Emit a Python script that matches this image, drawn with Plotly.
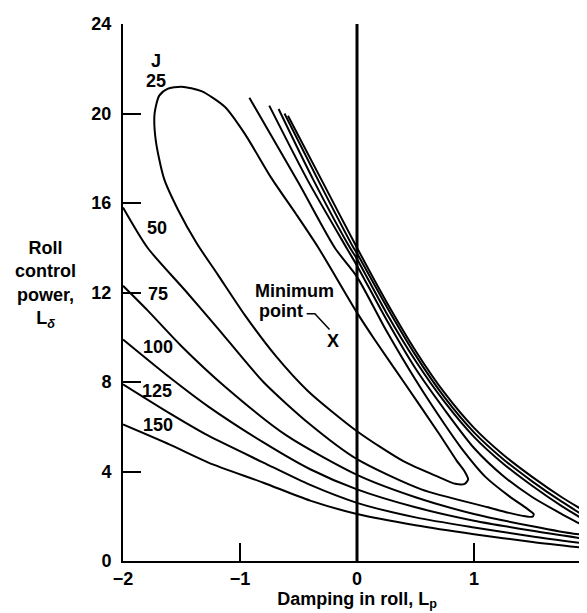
import plotly.graph_objects as go

# ---- data (x = damping in roll L_p, y = roll control power L_delta)
J25_x = [-1.50, -1.62, -1.69, -1.73, -1.72, -1.65, -1.53, -1.37, -1.19, -0.96, -0.70, -0.42, 0.00, 0.40, 0.70, 0.84, 0.92, 0.95, 0.92, 0.85, 0.70, 0.40, 0.15, 0.00, -0.33, -0.52, -0.73, -0.96, -1.13, -1.33, -1.50]
J25_y = [21.2, 21.1, 20.8, 20.0, 18.8, 17.1, 15.7, 14.2, 12.8, 11.0, 9.2, 7.6, 5.8, 4.45, 3.75, 3.45, 3.45, 3.65, 4.0, 4.5, 5.7, 8.0, 9.9, 11.1, 14.0, 15.5, 17.1, 19.1, 20.3, 21.0, 21.2]

J50_x = [-2.00, -1.79, -1.47, -1.19, -0.80, -0.40, 0.00, 0.55, 1.12, 1.30, 1.44, 1.50, 1.51, 1.45, 1.30, 1.10, 0.89, 0.75, 0.50, 0.25, 0.00, -0.19, -0.50, -0.92]
J50_y = [15.8, 14.0, 12.1, 10.4, 8.0, 6.1, 4.55, 3.2, 2.4, 2.15, 2.0, 1.98, 2.1, 2.35, 2.9, 3.75, 5.06, 6.1, 8.1, 10.3, 12.7, 14.0, 16.9, 20.7]

J75_x = [-2.00, -1.79, -1.50, -1.13, -0.60, 0.00, 0.50, 1.00, 1.50, 1.85, 1.95, 1.99, 1.97, 1.90, 1.75, 1.50, 1.25, 1.00, 0.75, 0.50, 0.25, 0.00, -0.09, -0.42, -0.75]
J75_y = [12.3, 11.2, 9.6, 7.8, 5.6, 3.85, 2.85, 2.1, 1.55, 1.22, 1.2, 1.3, 1.45, 1.68, 2.1, 2.85, 3.8, 5.05, 6.75, 8.6, 10.8, 13.2, 14.0, 17.0, 20.35]

J100_lo_x = [-2.00, -1.60, -1.27, -0.80, -0.40, 0.00, 0.50, 1.00, 1.50, 2.00]
J100_lo_y = [9.9, 8.2, 6.9, 5.3, 4.1, 3.2, 2.4, 1.8, 1.35, 0.95]
J100_up_x = [2.00, 1.75, 1.50, 1.25, 1.00, 0.75, 0.50, 0.25, 0.00, -0.06, -0.37, -0.67]
J100_up_y = [1.66, 2.45, 3.35, 4.35, 5.55, 7.1, 8.95, 11.1, 13.5, 14.0, 17.0, 20.2]

J125_lo_x = [-2.00, -1.60, -1.27, -0.80, -0.40, 0.00, 0.50, 1.00, 1.50, 2.00]
J125_lo_y = [7.9, 6.6, 5.6, 4.4, 3.4, 2.6, 1.95, 1.5, 1.1, 0.75]
J125_up_x = [2.00, 1.75, 1.50, 1.25, 1.00, 0.75, 0.50, 0.25, 0.00, -0.03, -0.33, -0.62]
J125_up_y = [1.83, 2.65, 3.55, 4.55, 5.75, 7.3, 9.2, 11.4, 13.75, 14.0, 17.0, 20.0]

J150_lo_x = [-2.00, -1.60, -1.27, -0.80, -0.40, 0.00, 0.50, 1.00, 1.50, 2.00]
J150_lo_y = [6.1, 5.2, 4.4, 3.5, 2.7, 2.1, 1.6, 1.2, 0.85, 0.55]
J150_up_x = [2.00, 1.75, 1.50, 1.25, 1.00, 0.75, 0.50, 0.25, 0.00, -0.30, -0.59]
J150_up_y = [2.06, 2.85, 3.75, 4.75, 5.95, 7.5, 9.4, 11.6, 14.0, 17.0, 19.9]

zero_line_x = [0, 0]
zero_line_y = [0, 24]

label_text = ["J", "25", "50", "75", "100", "125", "150"]
label_x = [-1.72, -1.72, -1.71, -1.70, -1.70, -1.71, -1.70]
label_y = [22.36, 21.47, 14.9, 11.95, 9.57, 7.6, 6.08]

min_text = ["Minimum", "point"]
min_text_x = [-0.889, -0.855]
min_text_y = [12.07, 11.19]
leader_x = [-0.43, -0.36, -0.235]
leader_y = [11.05, 11.05, 10.35]
min_point_x = [-0.205]
min_point_y = [9.84]

x_ticks = [-2, -1, 0, 1, 2]
x_ticktext = ["\u22122", "\u22121", "0", "1", "2"]
y_ticks = [0, 4, 8, 12, 16, 20, 24]
y_ticktext = ["0", "4", "8", "12", "16", "20", "24"]

FONT = "Liberation Sans, Arial, Helvetica, sans-serif"
FS = 18
BFONT = dict(family=FONT, size=FS, color="black", weight="bold")

fig = go.Figure()
series = [
    (J25_x, J25_y), (J50_x, J50_y), (J75_x, J75_y),
    (J100_lo_x, J100_lo_y), (J100_up_x, J100_up_y),
    (J125_lo_x, J125_lo_y), (J125_up_x, J125_up_y),
    (J150_lo_x, J150_lo_y), (J150_up_x, J150_up_y),
]
for xs, ys in series:
    fig.add_trace(go.Scatter(x=xs, y=ys, mode="lines",
                             line=dict(color="black", width=2, shape="spline", smoothing=0.7),
                             hoverinfo="skip", showlegend=False))

fig.add_trace(go.Scatter(x=zero_line_x, y=zero_line_y, mode="lines",
                         line=dict(color="black", width=3), showlegend=False, hoverinfo="skip"))
fig.add_trace(go.Scatter(x=leader_x, y=leader_y, mode="lines",
                         line=dict(color="black", width=1.5), showlegend=False, hoverinfo="skip"))

for t, xv, yv in zip(label_text, label_x, label_y):
    fig.add_annotation(x=xv, y=yv, text=t, showarrow=False, font=BFONT)

for t, xv, yv in zip(min_text, min_text_x, min_text_y):
    fig.add_annotation(x=xv, y=yv, text=t, showarrow=False, xanchor="left", font=BFONT)
fig.add_annotation(x=min_point_x[0], y=min_point_y[0], text="X", showarrow=False, font=BFONT)

fig.add_annotation(xref="paper", yref="paper", x=-0.165, y=0.515, xanchor="center", yanchor="middle",
                   text="Roll<br>control<br>power,<br>L<sub><i>δ</i></sub>",
                   showarrow=False, align="center", font=BFONT)

fig.update_layout(
    width=587, height=613,
    margin=dict(l=115, r=4, t=16, b=60, autoexpand=False),
    paper_bgcolor="white", plot_bgcolor="white",
    font=dict(family=FONT, size=FS, color="black"),
    xaxis=dict(range=[-2, 2], tickmode="array", tickvals=x_ticks, ticktext=x_ticktext,
               ticks="inside", ticklen=18, tickwidth=1.5, tickcolor="black",
               showline=True, linewidth=2, linecolor="black", showgrid=False, zeroline=False,
               tickfont=BFONT, ticklabeloverflow="allow", automargin=False,
               title=dict(text="Damping in roll, L<sub>p</sub>", standoff=2, font=BFONT)),
    yaxis=dict(range=[0, 24], tickmode="array", tickvals=y_ticks, ticktext=y_ticktext,
               ticks="inside", ticklen=18, tickwidth=1.5, tickcolor="black",
               showline=True, linewidth=2, linecolor="black", showgrid=False, zeroline=False,
               tickfont=BFONT, ticklabelstandoff=6, automargin=False,
               ticklabeloverflow="allow"),
)

fig.write_html("out.html")
